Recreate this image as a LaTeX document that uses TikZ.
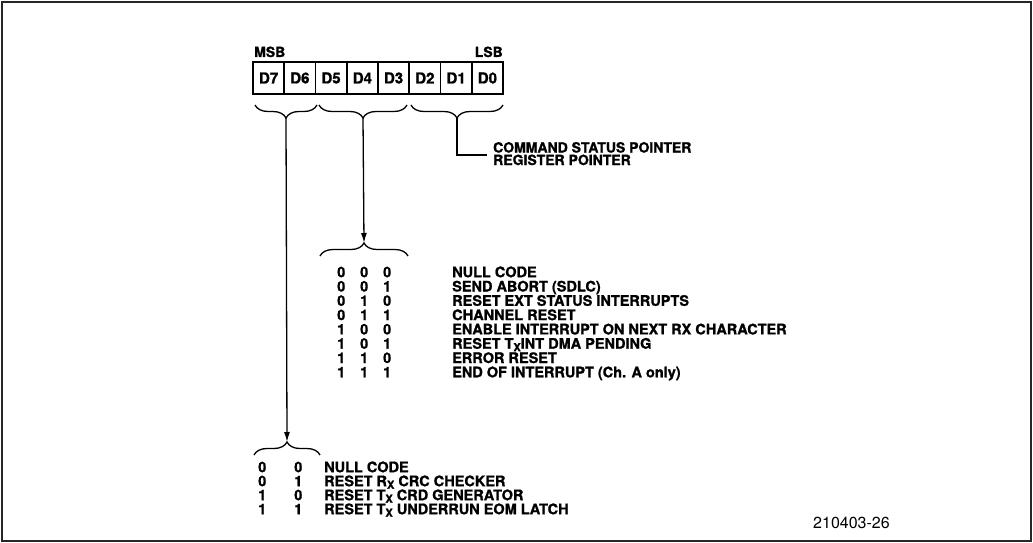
\documentclass[tikz,border=0pt]{standalone}
\usepackage{fontspec}
\setmainfont{TeX Gyre Heros}[BoldFeatures={FakeBold=1.2}]
\usepackage{tikz}
\usetikzlibrary{arrows.meta, positioning, decorations.pathreplacing}

\newcommand{\lblfont}{\fontsize{14.5}{14}\selectfont\bfseries}
\newcommand{\regfont}{\fontsize{14}{14}\selectfont\bfseries}
\newcommand{\subx}{\raisebox{-2.5pt}{\fontsize{11}{11}\selectfont X}}

\begin{document}
\begin{tikzpicture}[
  x=1pt, y=-1pt,
  cell/.style={rectangle, draw=black, line width=1.7pt, minimum width=31.25pt,
               minimum height=32pt, inner sep=0pt, font=\fontsize{15}{15}\selectfont\bfseries},
  brc/.style={decorate, decoration={brace, amplitude=13pt}, line width=1.3pt},
  arr/.style={-{Latex[length=10pt, width=6pt]}, line width=1.3pt},
  ln/.style={line width=1.3pt},
  txt/.style={anchor=base west, inner sep=0pt, font=\lblfont},
  dig/.style={anchor=base west, inner sep=0pt, font=\lblfont}
]
\useasboundingbox (0,0) rectangle (1033,543);
%% Frame
\draw[line width=1.3pt, black!85] (2,2) rectangle (1031,541);
%% Register
\node[txt, font=\regfont] (msb) at (254,57) {MSB};
\node[txt, font=\regfont, anchor=base east] (lsb) at (503,57) {LSB};
\node[cell] (d7) at (268.6,78) {D7};
\node[cell] (d6) at (299.9,78) {D6};
\node[cell] (d5) at (331.1,78) {D5};
\node[cell] (d4) at (362.4,78) {D4};
\node[cell] (d3) at (393.6,78) {D3};
\node[cell] (d2) at (424.9,78) {D2};
\node[cell] (d1) at (456.1,78) {D1};
\node[cell] (d0) at (487.4,78) {D0};
%% Braces under the register
\draw[brc] (317,105) -- (255,105);
\draw[brc] (407,105) -- (319,105);
\draw[brc] (503,105) -- (411,105);
\coordinate (tipH) at (286,118);
\coordinate (tipM) at (363,118);
\coordinate (tipL) at (457,118);
%% Pointer bits
\coordinate (bendL) at (457,155);
\coordinate (endL) at (487,155);
\draw[ln] (tipL) -- (bendL) -- (endL);
\node[txt, font=\regfont] (cmd) at (493,152.5) {COMMAND STATUS POINTER};
\node[txt, font=\regfont] (reg) at (493,165) {REGISTER POINTER};
%% Command bits D5-D3
\draw[brc] (320,256) -- (408,256);
\coordinate (topM) at (364,243);
\draw[arr] (tipM) -- (topM);
\node[dig] (m0) at (337,277.2) {0\hspace{14.9pt}0\hspace{14.9pt}0};
\node[dig] (m1) at (337,291.5) {0\hspace{14.9pt}0\hspace{14.9pt}1};
\node[dig] (m2) at (337,305.8) {0\hspace{14.9pt}1\hspace{14.9pt}0};
\node[dig] (m3) at (337,320.1) {0\hspace{14.9pt}1\hspace{14.9pt}1};
\node[dig] (m4) at (337,334.4) {1\hspace{14.9pt}0\hspace{14.9pt}0};
\node[dig] (m5) at (337,348.7) {1\hspace{14.9pt}0\hspace{14.9pt}1};
\node[dig] (m6) at (337,363.0) {1\hspace{14.9pt}1\hspace{14.9pt}0};
\node[dig] (m7) at (337,377.3) {1\hspace{14.9pt}1\hspace{14.9pt}1};
\node[txt] (c0) at (452,277.2) {NULL CODE};
\node[txt] (c1) at (452,291.5) {SEND ABORT (SDLC)};
\node[txt] (c2) at (452,305.8) {RESET EXT STATUS INTERRUPTS};
\node[txt] (c3) at (452,320.1) {CHANNEL RESET};
\node[txt] (c4) at (452,334.4) {ENABLE INTERRUPT ON NEXT RX CHARACTER};
\node[txt] (c5) at (452,348.7) {RESET T\subx INT DMA PENDING};
\node[txt] (c6) at (452,363.0) {ERROR RESET};
\node[txt] (c7) at (452,377.3) {END OF INTERRUPT (Ch. A only)};
%% CRC reset bits D7-D6
\draw[brc] (254,455) -- (320,455);
\coordinate (topH) at (287,442);
\draw[arr] (tipH) -- (topH);
\node[dig] (h0) at (258,472.2) {0\hspace{28pt}0};
\node[dig] (h1) at (258,486.2) {0\hspace{28pt}1};
\node[dig] (h2) at (258,500.2) {1\hspace{28pt}0};
\node[dig] (h3) at (258,514.2) {1\hspace{28pt}1};
\node[txt] (r0) at (324,472.2) {NULL CODE};
\node[txt] (r1) at (324,486.2) {RESET R\subx{} CRC CHECKER};
\node[txt] (r2) at (324,500.2) {RESET T\subx{} CRD GENERATOR};
\node[txt] (r3) at (324,514.2) {RESET T\subx{} UNDERRUN EOM LATCH};
%% Figure number
\node[txt, font=\fontsize{16}{16}\selectfont] (fig) at (813,528) {210403-26};
\end{tikzpicture}
\end{document}
